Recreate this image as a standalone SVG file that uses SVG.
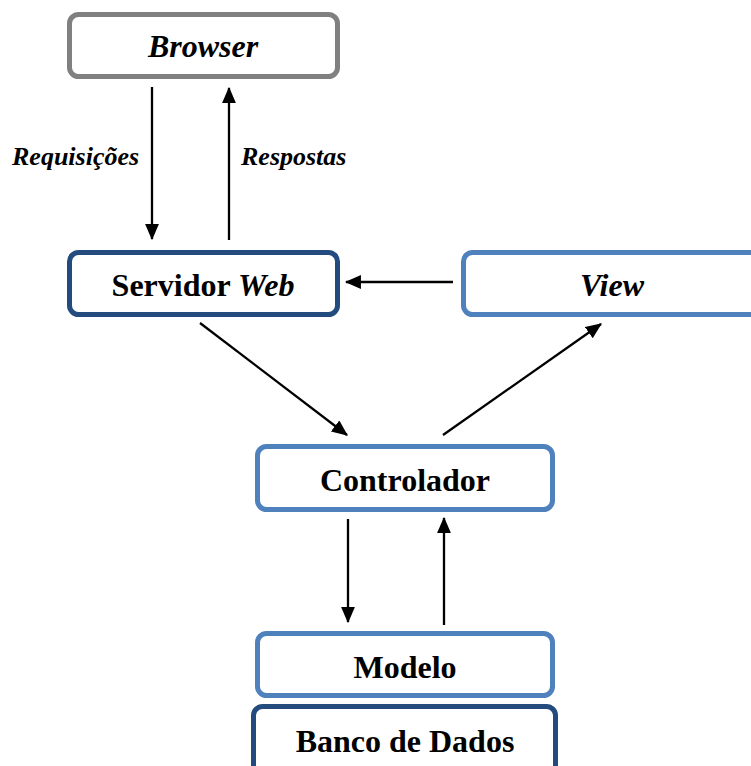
<svg xmlns="http://www.w3.org/2000/svg" width="751" height="766" viewBox="0 0 751 766">
<defs>
<marker id="ah" markerWidth="7" markerHeight="6" refX="6.5" refY="3" orient="auto" markerUnits="strokeWidth">
<path d="M0,0 L7,3 L0,6 Z" fill="#000"/>
</marker>
<style>
.box{fill:#fff;stroke-width:5}
.gray{stroke:#808080}
.dark{stroke:#234b7e}
.light{stroke:#4f81bd}
.t{font-family:"Liberation Serif","Times New Roman",serif;font-weight:bold;font-size:32px;text-anchor:middle;fill:#000}
.i{font-style:italic}
.lbl{font-family:"Liberation Serif","Times New Roman",serif;font-weight:bold;font-style:italic;font-size:26px;fill:#000}
.c{stroke:#000;stroke-width:2.3;fill:none;marker-end:url(#ah)}
</style>
</defs>
<rect width="751" height="766" fill="#fff"/>
<g id="browser">
<rect class="box gray" x="69.5" y="14.5" width="268" height="62" rx="9"/>
<text class="t i" x="203" y="57">Browser</text>
</g>
<g id="servidor">
<rect class="box dark" x="69.5" y="252.5" width="268" height="62" rx="9"/>
<text class="t" x="203" y="296">Servidor <tspan font-style="italic">Web</tspan></text>
</g>
<g id="view">
<rect class="box light" x="463.5" y="252.5" width="300" height="62" rx="9"/>
<text class="t i" x="612" y="296">View</text>
</g>
<g id="controlador">
<rect class="box light" x="257.5" y="446.5" width="295" height="63" rx="9"/>
<text class="t" x="405" y="491">Controlador</text>
</g>
<g id="modelo">
<rect class="box light" x="257.5" y="633.5" width="295" height="62" rx="9"/>
<text class="t" x="405" y="678">Modelo</text>
</g>
<g id="banco">
<rect class="box dark" x="253.5" y="706.5" width="302" height="70" rx="9"/>
<text class="t" x="405" y="752">Banco de Dados</text>
</g>
<g id="connectors">
<line class="c" x1="152" y1="87" x2="152" y2="239"/>
<line class="c" x1="229" y1="240" x2="229" y2="88"/>
<line class="c" x1="453" y1="282" x2="346" y2="282"/>
<line class="c" x1="200" y1="323" x2="347" y2="435"/>
<line class="c" x1="443" y1="435" x2="601" y2="324"/>
<line class="c" x1="348" y1="519" x2="348" y2="622"/>
<line class="c" x1="444" y1="625" x2="444" y2="518"/>
</g>
<g id="labels">
<text class="lbl" x="12" y="165">Requisições</text>
<text class="lbl" x="241" y="165">Respostas</text>
</g>
</svg>
